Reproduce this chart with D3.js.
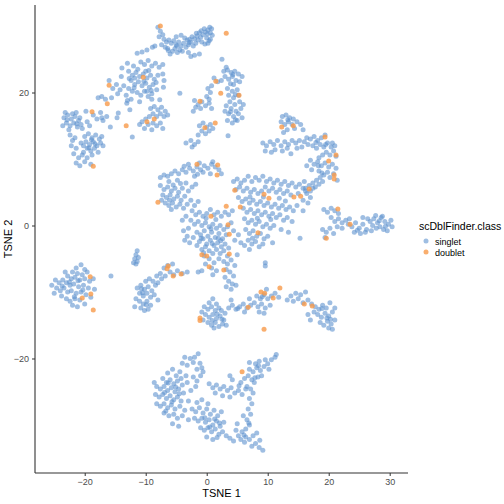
<!DOCTYPE html>
<html><head><meta charset="utf-8">
<script src="https://d3js.org/d3.v7.min.js"></script>
<style>body{margin:0;background:#fff}svg{display:block}</style>
</head><body>
<script>
const xTicks = [-20,-10,0,10,20,30];
const yTicks = [-20,0,20];
const classes = ["singlet","doublet"];

const singletTL = [[-8.0,29.8],[-7.6,29.2],[-7.2,28.7],[-7.0,28.0],[-6.6,27.6],[-6.2,27.9],[-5.8,27.4],[-5.4,27.8],[-5.0,27.2],[-4.6,27.6],[-4.2,27.0],[-3.8,27.4],[-3.4,26.8],[-3.0,27.2],[-2.6,27.6],[-2.2,27.0],[-1.8,27.4],[-1.4,27.9],[-1.0,28.3],[-0.6,28.7],[-0.2,29.1],[0.2,29.4],[0.6,29.0],[0.9,28.6],[-0.4,29.6],[0.0,28.2],[0.4,27.8],[-1.2,29.0],[-0.8,27.6],[-1.6,28.5],[-2.0,28.1],[-2.4,28.4],[-2.8,28.0],[-3.2,27.9],[-3.6,28.2],[-4.4,26.4],[-4.8,26.0],[-5.2,26.6],[-4.0,26.2],[-3.0,26.0],[-2.0,25.6],[-5.6,26.2],[-6.0,25.8],[-6.4,26.6],[-7.4,27.2],[-7.8,28.4],[-2.6,25.4],[-1.2,25.8],[0.6,28.0],[0.2,27.4],[-6.8,26.8],[-5.0,28.4],[-4.2,28.6],[0.8,29.6],
[-1.7,28.9],[-0.9,29.3],[0.1,28.8],[-2.9,27.5],[-4.9,27.0],[-6.3,26.3],[0.5,29.8],[-0.3,27.3],
[-11.4,25.9],[-10.6,26.1],[-9.8,26.4],[-8.9,26.8],[-8.5,27.0],[-10.8,24.6],[-10.2,24.2],[-9.6,24.8],[-9.0,24.0],[-8.4,24.4],[-7.8,23.8],[-7.2,24.2],[-13.9,23.7],[-12.8,23.2],[-12.2,22.6],[-11.6,23.0],[-11.0,22.4],[-10.4,22.8],[-9.8,22.2],[-9.2,22.6],[-8.6,22.0],[-8.0,22.6],[-12.4,21.8],[-11.8,21.2],[-11.2,21.6],[-10.6,21.0],[-10.0,21.4],[-9.4,20.8],[-8.8,21.2],[-12.8,20.6],[-12.2,20.2],[-11.4,20.0],[-10.8,19.6],[-10.2,20.2],[-9.6,19.4],[-13.2,19.6],[-7.2,22.8],[-7.0,21.8],[-7.1,20.8],[-13.6,21.0],[-14.2,20.4],[-14.8,21.2],[-15.4,20.6],[-16.0,21.8],[-14.6,19.8],[-15.6,19.2],[-16.6,19.0],[-17.2,19.4],[-17.8,19.2],[-13.0,18.8],[-12.4,19.0],[-11.0,18.6],[-9.0,19.8],[-8.2,20.4],[-12.0,24.0],[-13.0,24.4],[-10.0,23.2],[-11.8,22.2],[-14.0,22.4],[-9.8,20.2],[-9.0,19.0],[-13.1,18.4],[-12.6,17.4],[-4.4,19.9],[-7.7,18.9],
[-11.3,23.5],[-9.5,23.3],[-12.7,22.1],[-10.3,21.7],[-8.3,21.5],[-11.9,20.7],[-9.1,20.3],
[-23.4,16.2],[-22.8,16.6],[-22.2,16.0],[-21.6,16.4],[-21.0,15.8],[-23.0,15.4],[-22.4,15.0],[-21.8,15.4],[-21.2,14.8],[-20.6,15.2],[-22.6,14.4],[-20.4,14.6],[-23.6,15.0],[-22.0,16.8],[-20.8,16.2],[-19.6,15.6],[-19.2,15.0],[-23.2,17.0],[-21.4,17.0],[-22.9,15.9],[-21.3,15.3],
[-22.4,13.6],[-22.0,12.8],[-21.6,13.2],[-22.2,12.0],[-21.4,11.6],[-21.8,10.8],[-21.0,10.2],[-21.4,9.4],[-20.8,9.0],[-20.2,11.0],[-20.6,12.4],
[-20.0,13.4],[-19.4,13.8],[-18.8,13.2],[-18.2,13.6],[-17.6,13.0],[-17.2,13.4],[-19.8,12.6],[-19.2,12.2],[-18.6,12.6],[-18.0,12.0],[-17.4,12.4],[-19.6,11.6],[-19.0,11.2],[-18.4,11.6],[-17.8,11.0],[-20.2,12.0],[-18.8,10.6],[-19.6,10.2],[-20.4,10.6],[-17.0,12.0],[-20.0,9.6],[-19.0,9.2],[-18.9,12.9],[-18.3,12.3],[-19.3,11.7],
[-19.8,17.2],[-18.6,16.6],[-17.4,17.0],[-16.4,16.4],[-17.0,15.8],[-18.0,16.0],[-15.8,14.8],[-14.7,16.2],[-14.5,16.9],[-17.2,16.2],
[-9.2,17.6],[-8.6,17.9],[-8.0,17.4],[-7.4,17.8],[-6.8,17.2],[-6.4,16.6],[-7.0,16.4],[-7.6,16.8],[-8.2,16.4],[-8.8,16.8],[-9.4,16.4],[-10.0,16.0],[-10.6,15.6],[-9.6,15.2],[-8.8,15.4],[-8.2,15.0],[-7.6,15.4],[-9.0,14.4],[-10.2,14.6],[-11.0,15.2],[-7.2,14.6],[-12.2,13.3]];

const singletTM = [[2.5,25.0],[3.2,23.8],[2.8,23.2],[3.4,23.4],[4.0,23.0],[4.6,23.2],[5.2,22.8],[5.8,22.4],[3.0,22.4],[3.6,22.0],[4.2,22.4],[4.8,21.8],[5.4,21.6],[2.4,21.8],[4.4,21.2],[1.2,22.2],[1.8,21.6],[0.8,21.0],[0.2,20.6],[0.6,20.0],[0.0,19.4],[0.4,19.0],
[3.4,20.6],[4.2,20.2],[5.0,20.4],[3.6,19.6],[4.4,19.2],[5.2,19.6],[3.8,18.6],[4.6,18.2],[5.4,18.6],[3.2,18.0],[4.0,17.6],[4.8,17.2],[5.6,17.6],[3.6,16.8],[4.4,16.4],[5.2,16.8],[3.4,15.8],[4.2,15.4],[5.0,15.8],[3.0,17.2],[5.8,16.2],[6.0,18.2],
[4.3,22.7],[3.9,21.3],[4.7,19.7],[3.9,17.1],[4.7,15.9],
[-2.0,18.8],[-1.4,18.2],[-0.8,18.6],[-0.2,18.0],[0.4,18.4],[-1.0,17.6],[-1.8,17.8],[0.8,17.6],[-2.2,17.2],
[-1.2,15.0],[-0.6,15.4],[0.0,14.8],[0.6,15.2],[1.0,14.6],[-0.8,14.2],[-0.2,13.8],[0.4,14.2],[-1.4,13.6],[3.5,13.5],
[-2.6,12.8],[-2.0,12.2],[-1.4,12.6],[-2.4,11.8],[-3.4,12.4]];

const singletRU = [[12.4,16.4],[13.0,16.6],[13.6,16.2],[14.2,16.0],[14.8,15.6],[12.2,15.6],[12.8,15.2],[13.4,15.6],[14.0,15.2],[15.4,15.2],[13.2,14.4],[14.4,14.6],[15.8,14.4],[12.6,14.0],[13.3,15.9],
[9.2,12.4],[9.8,12.0],[10.4,12.6],[11.0,12.2],[11.6,12.8],[12.2,12.0],[12.8,12.6],[13.4,12.2],[14.0,12.8],[14.6,12.4],[11.2,11.4],[12.4,11.2],[13.2,11.6],[13.8,10.8],[9.6,11.2],[10.6,11.0],[14.8,11.6],[15.2,12.8],[15.6,11.8],[16.0,12.6],
[16.4,13.2],[17.0,13.0],[17.6,13.4],[18.2,12.8],[18.8,13.2],[16.6,12.2],[17.4,12.0],[18.0,11.6],[18.6,12.2],[19.2,11.8],[19.8,12.4],[20.4,11.8],[19.6,11.0],[20.2,10.6],[20.8,11.2],[21.2,10.4],[19.0,10.6],[18.4,10.2],[20.6,12.4],[19.4,13.6],[21.0,12.0],[17.9,12.5],[19.5,12.2],
[17.0,9.8],[17.6,9.2],[18.2,9.6],[18.8,9.0],[19.4,9.4],[20.0,8.8],[20.6,9.2],[21.2,8.6],[16.4,9.0],[17.2,8.4],[18.4,8.2],[18.3,9.0],[18.9,7.9],
[16.2,5.6],[16.8,6.0],[17.4,6.4],[18.0,6.8],[18.6,7.2],[19.2,7.6],[19.8,8.0],[17.0,5.2],[17.8,5.8],[18.4,6.2],[19.0,6.6],[20.2,7.2],[20.8,7.8],[16.0,6.6],[21.4,6.8]];

const singletC = [[-7.6,7.2],[-7.0,7.6],[-6.4,7.4],[-5.8,7.8],[-5.2,8.2],[-4.6,7.8],[-4.0,8.4],[-3.4,8.0],[-2.8,8.6],[-2.2,8.2],[-1.6,8.8],[-1.0,8.4],[-0.4,9.0],[0.2,8.6],[0.8,9.2],[1.4,8.8],[2.0,8.4],[-0.6,8.0],[0.6,7.8],[-2.0,7.4],[1.0,9.6],[-1.2,9.4],[-3.0,9.2],[-4.8,6.8],[-6.2,6.6],[2.4,7.8],[-3.7,8.9],[-1.5,7.7],
[-7.6,6.0],[-7.0,5.4],[-6.4,5.8],[-5.8,5.2],[-5.2,5.6],[-4.6,5.0],[-4.0,5.6],[-7.2,4.6],[-6.6,4.2],[-6.0,4.6],[-5.4,4.0],[-4.8,4.4],[-4.2,3.8],[-3.6,4.4],[-6.8,3.4],[-6.2,3.0],[-5.6,3.4],[-5.0,2.8],[-4.4,3.2],[-3.8,2.6],[-3.2,3.2],[-2.6,3.8],[-2.0,3.0],[-1.4,3.6],[-3.0,5.2],[-2.4,5.8],[-1.8,6.2],[-3.4,6.4],[-7.4,3.8],[-5.8,2.4],[-5.5,6.1],[-4.3,6.3],[-6.1,3.8],
[-2.4,2.2],[-1.8,1.6],[-1.2,2.0],[-0.6,1.4],[0.0,1.8],[0.6,2.4],[1.2,1.6],[1.8,2.0],[2.4,1.4],[3.0,2.0],[3.6,1.6],[4.2,2.2],[-2.6,0.8],[-2.0,0.2],[-1.4,0.6],[-0.8,0.0],[-0.2,0.4],[0.4,-0.2],[1.0,0.2],[1.6,-0.4],[2.2,0.0],[2.8,-0.6],[3.4,-0.2],[4.0,0.4],[-1.6,-1.0],[-1.0,-1.4],[-0.4,-0.8],[0.2,-1.6],[0.8,-1.0],[1.4,-1.8],[2.0,-1.2],[2.6,-2.0],[3.2,-1.4],[4.4,-0.8],[-1.2,-2.4],[-0.6,-2.0],[0.0,-2.8],[0.6,-2.2],[1.2,-3.0],[1.8,-2.6],[2.4,-3.2],[3.0,-2.8],[3.6,-3.4],[-0.8,-3.6],[-0.2,-3.2],[0.4,-3.8],[1.0,-4.2],[1.6,-3.6],[2.2,-4.2],[2.8,-3.8],[3.4,-4.6],[-1.6,-3.0],[-2.2,-1.8],[4.6,-2.2],[-3.4,1.4],[-4.0,0.8],[-3.0,-0.4],[-3.8,-0.8],[-3.2,-1.6],[-2.8,-2.6],[-3.6,-2.2],
[-0.1,1.1],[1.5,0.9],[0.7,-0.5],[-0.9,-1.9],[1.9,-1.9],[0.9,-2.7],[-0.5,-4.1],[2.3,-2.3],
[2.8,-5.4],[3.4,-5.8],[4.0,-5.2],[4.6,-6.0],[3.2,-6.6],[3.8,-7.0],[4.4,-7.6],[3.0,-7.8],[3.6,-8.4],[4.2,-8.8],[3.2,-9.2],[4.0,-9.6],[4.8,-9.0],[-0.4,-4.6],[0.4,-5.0],[1.2,-5.6],[2.0,-5.0],[0.8,-6.4],[1.6,-6.8],[-0.2,-5.8],[1.0,-7.4],[5.0,-4.4],[-0.8,-6.8],[-1.4,-7.0],[9.6,-5.6],[9.6,-6.1],
[4.4,6.6],[5.0,7.0],[5.6,6.4],[6.2,6.8],[6.8,7.4],[7.4,6.6],[8.0,7.2],[8.6,6.8],[9.2,7.4],[9.8,6.6],[10.4,7.0],[11.0,6.4],[11.6,6.8],[12.2,6.2],[12.8,6.6],[13.4,6.0],[14.0,6.4],[14.6,5.8],[15.2,6.2],[15.8,5.6],[16.4,4.8],[17.0,4.2],[4.8,5.4],[5.4,5.8],[6.0,5.2],[6.6,5.6],[7.2,5.0],[7.8,5.4],[8.4,4.8],[9.0,5.2],[9.6,5.8],[10.2,5.2],[10.8,5.6],[11.4,5.0],[12.0,5.4],[12.6,4.8],[13.2,5.2],[13.8,4.6],[15.0,4.8],[15.8,3.8],[16.6,3.4],[5.2,4.2],[5.8,3.6],[6.4,4.0],[7.0,3.4],[7.6,3.8],[8.2,3.2],[8.8,3.6],[9.4,3.0],[10.0,3.4],[10.6,2.8],[11.2,3.2],[11.8,2.6],[12.4,3.0],[13.0,2.4],[13.6,2.8],[14.2,2.2],[14.8,3.0],[6.0,2.6],[6.6,2.0],[7.2,2.4],[7.8,1.8],[8.4,2.2],[9.0,1.6],[9.6,2.0],[10.2,1.4],[10.8,1.8],[11.4,1.2],[12.0,1.6],[12.6,0.8],[13.2,1.2],[14.0,0.6],[6.2,1.0],[6.8,0.4],[7.4,0.8],[8.0,0.2],[8.6,0.6],[9.2,-0.2],[9.8,0.2],[10.4,-0.4],[11.0,0.0],[12.2,-0.6],[6.4,-0.6],[7.0,-1.2],[7.6,-0.8],[8.2,-1.6],[8.8,-1.2],[9.4,-2.0],[10.0,-1.6],[6.8,-2.2],[7.4,-2.8],[8.0,-2.4],[8.6,-3.2],[9.2,-2.8],[6.2,-3.0],[7.0,-3.6],[13.4,-1.0],[15.8,2.2],[5.2,-1.4],[5.6,-2.6],[16.2,5.2],[10.8,-2.6],[17.4,5.6],[15.3,-1.9],
[7.1,4.3],[9.3,4.3],[11.9,4.1],[8.3,1.1],[10.5,0.9],[7.5,-1.9],[12.9,3.7]];

const singletRA = [[19.2,2.4],[19.8,2.0],[20.4,2.6],[21.0,2.2],[21.6,1.8],[20.4,1.2],[21.0,0.6],[21.6,1.0],[22.2,0.4],[22.8,0.8],[21.4,-0.2],[22.2,-0.4],[23.2,0.2],[23.8,-0.2],[24.4,0.4],[25.0,-0.4],[25.6,0.2],[26.2,-0.6],[24.2,-1.0],[25.2,-1.2],[26.0,-1.0],[26.8,0.6],[27.4,1.0],[28.0,0.4],[28.6,1.2],[29.2,0.6],[29.8,0.2],[30.4,-0.2],[27.2,0.0],[27.8,-0.4],[28.4,-0.2],[29.0,-0.6],[29.6,-0.8],[30.2,0.8],[28.8,1.4],[27.0,-0.8],[26.4,1.0],[19.0,-0.6],[19.6,-1.0],[20.2,-0.4],[20.8,-1.2],[19.4,-1.8],[25.6,1.2],[23.4,1.0],
[28.3,0.7],[29.3,-0.1],[27.7,1.5],[24.7,-0.7]];

const singletL = [[-20.6,-5.9],[-21.4,-6.4],[-20.0,-6.6],[-22.0,-7.0],[-21.2,-7.2],[-20.4,-7.4],[-19.6,-7.0],[-22.8,-7.6],[-22.2,-8.0],[-21.6,-7.8],[-20.8,-8.2],[-20.0,-8.0],[-19.2,-8.4],[-18.6,-8.0],[-24.8,-8.2],[-24.2,-8.6],[-23.6,-8.2],[-23.0,-8.6],[-22.4,-9.0],[-21.8,-8.8],[-21.0,-9.2],[-20.2,-9.0],[-19.4,-9.4],[-18.4,-9.6],[-25.4,-9.0],[-24.6,-9.4],[-24.0,-9.8],[-23.4,-9.4],[-22.8,-10.0],[-22.2,-9.8],[-21.4,-10.2],[-20.6,-10.0],[-19.8,-10.4],[-23.8,-10.6],[-23.0,-11.0],[-22.4,-11.4],[-21.6,-11.0],[-20.8,-11.2],[-22.0,-12.0],[-21.2,-12.2],[-20.0,-11.8],[-25.0,-10.2],[-23.2,-7.0],[-19.0,-10.8],[-15.7,-7.6],
[-22.5,-8.5],[-21.1,-8.3],[-20.3,-9.7],[-23.7,-9.1],[-21.7,-10.7],
[-11.4,-3.8],[-11.6,-4.4],[-11.8,-5.0],[-11.4,-5.4],[-11.6,-5.8],[-11.2,-4.8],[-12.0,-5.6],
[-11.4,-9.4],[-10.8,-9.0],[-10.2,-9.6],[-9.6,-9.2],[-9.0,-9.8],[-11.0,-10.2],[-10.4,-10.6],[-9.8,-10.2],[-9.2,-10.8],[-8.6,-10.4],[-11.6,-11.0],[-11.0,-11.4],[-10.4,-11.8],[-9.8,-11.4],[-9.2,-12.0],[-10.8,-12.4],[-10.2,-12.8],[-9.6,-12.6],[-8.4,-9.0],[-8.8,-8.4],[-9.4,-8.0],[-8.2,-7.6],[-7.6,-7.2],[-6.8,-7.6],[-6.0,-7.0],[-5.4,-7.4],[-4.8,-6.8],[-4.0,-7.2],[-3.2,-7.0],[-7.0,-6.4],[-6.4,-6.0],[-5.6,-5.8],[-10.0,-8.4],[-8.0,-8.6],[-7.4,-8.0],[-11.8,-12.2],[-8.0,-11.2],
[-10.5,-10.1],[-9.9,-11.9],[-10.7,-9.5]];

const singletBM = [[1.0,-11.0],[0.4,-11.6],[1.6,-11.8],[-0.4,-12.2],[0.2,-12.6],[0.8,-12.2],[1.4,-12.8],[2.0,-12.4],[-0.8,-13.0],[-0.2,-13.4],[0.4,-13.8],[1.0,-13.4],[1.6,-14.0],[2.2,-13.6],[2.8,-14.2],[0.2,-14.6],[0.8,-15.0],[1.4,-14.6],[2.0,-15.2],[2.6,-14.8],[3.2,-15.0],[1.2,-15.4],[-0.6,-14.2],[2.4,-12.8],[3.0,-13.2],
[0.9,-14.3],[1.7,-13.3],[2.5,-14.1],[5.1,-12.5],[9.1,-10.7],
[3.6,-12.4],[4.2,-12.0],[4.8,-12.6],[5.4,-12.2],[6.0,-11.8],[6.6,-12.4],[7.2,-12.0],[7.8,-11.6],[8.4,-12.2],[9.0,-11.8],[9.6,-12.4],[8.2,-10.6],[8.8,-11.0],[9.4,-10.4],[10.0,-11.0],[10.6,-10.6],[11.2,-10.2],[9.8,-9.6],[10.4,-12.0],[8.6,-13.0],[9.4,-13.2],[7.0,-11.0],[4.0,-11.2],[11.8,-10.8],[6.2,-13.0],
[13.8,-10.6],[14.6,-10.2],[15.4,-10.4],[16.2,-10.0],[14.2,-11.4],[15.0,-11.0],[15.8,-11.6],[16.6,-11.2],[17.2,-11.8],[17.8,-12.2],[18.4,-12.6],[19.0,-12.0],[19.6,-12.4],[20.2,-11.6],[17.6,-13.0],[18.2,-13.4],[18.8,-13.8],[19.4,-13.2],[20.0,-13.6],[20.6,-13.0],[18.6,-14.6],[19.2,-15.0],[19.8,-14.4],[20.4,-14.8],[21.0,-14.2],[20.0,-15.4],[17.0,-14.2],[16.6,-13.4],[21.0,-12.4],[20.6,-15.6],[13.2,-11.2],
[19.7,-13.9],[18.9,-12.5],[20.3,-14.1]];

const singletB = [[-1.4,-19.3],[-2.0,-19.8],[-2.7,-20.0],[-3.6,-19.8],[-2.2,-20.6],[-1.1,-20.7],[-0.8,-21.4],[-4.0,-20.7],[-4.4,-22.0],[-0.6,-22.0],[-3.2,-21.0],[-1.6,-21.6],
[-5.6,-21.6],[-6.4,-22.2],[-5.0,-22.6],[-4.2,-23.0],[-3.4,-22.6],[-7.2,-23.0],[-6.6,-23.6],[-6.0,-23.2],[-5.4,-23.8],[-4.8,-23.4],[-4.0,-24.0],[-3.2,-23.6],[-8.2,-24.2],[-7.6,-24.6],[-7.0,-24.2],[-6.4,-24.8],[-5.8,-24.4],[-5.2,-25.0],[-4.6,-24.6],[-3.8,-25.2],[-8.4,-25.4],[-7.8,-25.8],[-7.2,-25.4],[-6.6,-26.0],[-6.0,-25.6],[-5.4,-26.2],[-4.8,-25.8],[-4.2,-26.4],[-8.2,-26.8],[-7.6,-27.2],[-7.0,-26.8],[-6.4,-27.4],[-5.8,-27.0],[-5.2,-27.6],[-4.4,-27.2],[-3.6,-27.8],[-7.0,-28.2],[-6.2,-28.6],[-5.4,-28.4],[-4.8,-29.0],[-4.0,-28.6],[-5.6,-29.8],[-4.6,-30.2],[-3.0,-26.4],[-2.6,-24.8],[-8.6,-23.6],[-3.0,-29.2],
[-6.3,-23.7],[-5.1,-24.3],[-6.9,-25.1],[-5.7,-26.5],[-4.5,-25.3],[-6.7,-27.9],
[-2.2,-22.8],[-1.6,-23.4],[-1.0,-22.6],[-1.8,-24.2],[-2.4,-27.6],[-1.8,-28.0],[-1.2,-27.4],[-0.6,-28.2],[0.0,-27.6],[0.6,-28.4],[1.2,-27.8],[1.8,-28.6],[2.4,-28.0],[-2.0,-29.0],[-1.4,-29.4],[-0.8,-29.0],[-0.2,-29.6],[0.4,-29.2],[1.0,-30.0],[1.6,-29.4],[2.2,-30.2],[2.8,-29.6],[-1.0,-30.4],[-0.4,-30.8],[0.2,-30.4],[0.8,-31.0],[1.4,-30.6],[2.0,-31.4],[2.6,-31.0],[3.2,-31.6],[0.0,-31.8],[1.0,-32.2],[3.8,-32.0],[-1.6,-26.6],[-0.8,-26.2],[0.2,-26.8],[4.4,-32.4],
[-0.3,-28.9],[1.3,-29.1],[2.1,-29.7],[0.5,-30.3],[1.7,-31.9],
[0.4,-23.8],[1.0,-24.4],[1.6,-24.0],[2.2,-24.6],[2.8,-24.2],[3.4,-24.8],[4.0,-24.4],[4.6,-25.2],[5.2,-24.8],[5.8,-25.4],[1.4,-25.2],[2.6,-25.6],[3.8,-25.8],[6.4,-24.6],[5.3,-24.1],
[5.6,-23.6],[6.2,-23.0],[6.8,-22.6],[7.4,-23.2],[7.0,-21.6],[7.6,-22.0],[8.2,-21.4],[8.8,-21.8],[9.4,-21.2],[10.0,-20.8],[10.6,-20.2],[11.2,-19.8],[11.4,-19.4],[8.0,-20.8],[8.6,-20.4],[9.0,-22.6],[7.8,-23.6],[6.6,-24.2],[7.2,-24.6],[4.2,-23.2],[3.8,-22.6],[8.4,-22.8],[10.2,-21.6],[9.6,-20.2],[7.0,-20.6],[8.5,-21.1],[7.9,-22.9],
[7.6,-25.2],[7.0,-26.0],[7.4,-26.8],[6.8,-27.6],[7.2,-28.4],[6.6,-29.2],[7.0,-30.0],[6.4,-30.6],[5.8,-31.0],[5.2,-31.6],[4.8,-30.8],[5.6,-32.2],[6.2,-32.6],[7.0,-32.2],[7.6,-31.6],[8.0,-32.8],[8.6,-33.4],[9.2,-33.8],[7.4,-33.2],[6.4,-31.8],[8.2,-31.2],[5.0,-29.8],[6.0,-28.6],[6.9,-29.7],[6.1,-31.5],[8.7,-32.3]];

const doublet = [[-7.6,30.0],[-16.0,21.1],[-10.4,22.3],[-16.3,18.3],[-18.8,17.1],[-13.2,15.0],[-9.8,15.6],[-8.6,16.0],[-18.6,8.9],
[3.2,28.9],[5.3,19.6],[2.3,19.9],[1.5,21.7],[-1.1,18.7],[1.4,15.4],[-0.3,14.7],
[14.2,15.0],[12.3,14.8],[19.4,13.3],[21.2,10.6],[20.0,9.7],[20.9,7.6],[20.9,7.0],
[-8.0,3.5],[-1.6,9.2],[1.7,7.6],[1.8,9.1],[0.7,1.4],[-0.8,-4.4],[0.0,-4.6],[0.4,-6.2],[4.6,5.3],[5.5,2.8],[3.2,2.9],[3.5,0.1],[3.7,-1.3],[3.7,-4.3],[2.8,-6.7],[9.4,4.7],[10.2,4.1],[8.4,-1.1],[14.3,4.3],[15.4,4.4],[16.8,5.5],
[21.5,2.5],[23.5,0.2],[19.6,-1.9],
[-19.1,-7.7],[-20.4,-10.9],[-19.0,-10.3],[-18.6,-12.7],
[-6.3,-6.1],[-6.5,-6.5],[-5.5,-7.6],[-4.2,-7.3],
[-1.1,-13.9],[-1.1,-14.3],[8.9,-10.0],[9.5,-10.2],[10.9,-10.9],[12.0,-9.4],[6.8,-12.3],[9.4,-15.6],
[16.0,-11.8],[17.3,-12.1],[5.8,-22.0]];

const singlet = [].concat(singletTL, singletTM, singletRU, singletC, singletRA, singletL, singletBM, singletB);
const colors = {singlet: "#5F93CF", doublet: "#F79A4A"};

const W = 504, H = 504;
const panel = {left: 35, right: 408, top: 5, bottom: 473};
const x = d3.scaleLinear().domain([-28.15, 33.0]).range([panel.left, panel.right]);
const y = d3.scaleLinear().domain([-37.22, 33.16]).range([panel.bottom, panel.top]);

const svg = d3.select("body").append("svg").attr("width", W).attr("height", H)
  .style("font-family", "'Liberation Sans', Arial, sans-serif");

svg.append("g").selectAll("circle").data(singlet).join("circle")
  .attr("cx", d => x(d[0])).attr("cy", d => y(d[1])).attr("r", 2.5)
  .attr("fill", colors.singlet).attr("fill-opacity", 0.6);
svg.append("g").selectAll("circle").data(doublet).join("circle")
  .attr("cx", d => x(d[0])).attr("cy", d => y(d[1])).attr("r", 2.5)
  .attr("fill", colors.doublet).attr("fill-opacity", 0.8);

const xAxis = svg.append("g").attr("transform", `translate(0,${panel.bottom})`)
  .call(d3.axisBottom(x).tickValues(xTicks).tickSize(3).tickPadding(3).tickSizeOuter(0));
const yAxis = svg.append("g").attr("transform", `translate(${panel.left},0)`)
  .call(d3.axisLeft(y).tickValues(yTicks).tickSize(3).tickPadding(3).tickSizeOuter(0));
[xAxis, yAxis].forEach(a => {
  a.select(".domain").attr("stroke", "#333").attr("stroke-width", 1.1);
  a.selectAll(".tick line").attr("stroke", "#333");
  a.selectAll(".tick text").attr("fill", "#4D4D4D").style("font-size", "9px");
});
xAxis.select(".domain").attr("d", `M${panel.left},0H${panel.right}`);
yAxis.select(".domain").attr("d", `M0,${panel.bottom}V${panel.top}`);

svg.append("text").attr("x", (panel.left + panel.right) / 2).attr("y", 497)
  .attr("text-anchor", "middle").style("font-size", "11px").attr("fill", "#000").text("TSNE 1");
svg.append("text").attr("transform", `translate(12,${(panel.top + panel.bottom) / 2}) rotate(-90)`)
  .attr("text-anchor", "middle").style("font-size", "11px").attr("fill", "#000").text("TSNE 2");

const leg = svg.append("g").attr("transform", "translate(419,0)");
leg.append("text").attr("x", 0).attr("y", 230).style("font-size", "10.5px").attr("fill", "#000").text("scDblFinder.class");
classes.forEach((c, i) => {
  const cy = 241 + i * 11;
  leg.append("circle").attr("cx", 7).attr("cy", cy).attr("r", 2.5)
    .attr("fill", colors[c]).attr("fill-opacity", c === "singlet" ? 0.6 : 0.8);
  leg.append("text").attr("x", 16).attr("y", cy + 3.5).style("font-size", "9px").attr("fill", "#000").text(c);
});
</script>
</body></html>
